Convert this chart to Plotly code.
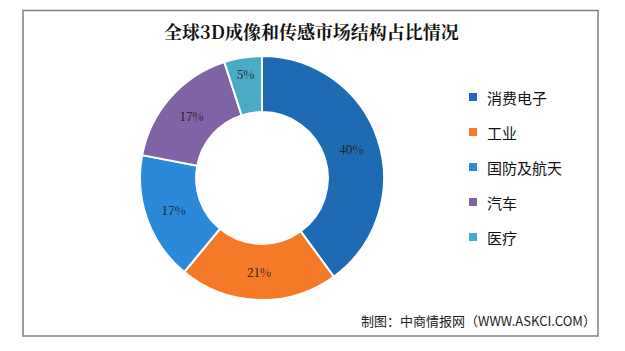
import plotly.graph_objects as go

categories = ["消费电子", "工业", "国防及航天", "汽车", "医疗"]
values = [40, 21, 17, 17, 5]
colors = ["#1f6bb3", "#f47a28", "#2a89d8", "#7f63a5", "#4babc7"]

title_text = "全球3D成像和传感市场结构占比情况"
source_text = "制图：中商情报网（WWW.ASKCI.COM）"

W, H = 625, 351
cx, cy, r = 262, 178, 122

fig = go.Figure()
fig.add_trace(go.Pie(
    labels=categories,
    values=values,
    sort=False,
    direction="clockwise",
    rotation=0,
    hole=0.54,
    marker=dict(colors=colors, line=dict(color="white", width=2)),
    texttemplate="%{percent:.0%}",
    textposition="inside",
    insidetextorientation="horizontal",
    textfont=dict(family="Noto Serif CJK SC, DejaVu Serif", size=12, color="#1a1a1a"),
    domain=dict(x=[(cx - r) / W, (cx + r) / W],
                y=[(H - cy - r) / H, (H - cy + r) / H]),
    showlegend=False,
    hoverinfo="label+percent",
))

shapes = [dict(type="rect", xref="paper", yref="paper",
               x0=23 / W, x1=598 / W, y0=1 - 336 / H, y1=1 - 10.5 / H,
               line=dict(color="#7f7f7f", width=1.5), fillcolor="rgba(0,0,0,0)")]
annotations = [
    dict(text="<b>" + title_text + "</b>", x=311 / W, y=1 - 31 / H, xref="paper", yref="paper",
         showarrow=False, xanchor="center", yanchor="middle",
         font=dict(family="Noto Serif CJK SC, Noto Sans CJK SC", size=18, color="#111111")),
    dict(text=source_text, x=598 / W, y=1 - 320 / H, xref="paper", yref="paper",
         showarrow=False, xanchor="right", yanchor="middle",
         font=dict(family="Noto Sans CJK SC", size=13, color="#222222")),
]

leg_y0, leg_dy = 97, 35
for i, (cat, col) in enumerate(zip(categories, colors)):
    yc = leg_y0 + i * leg_dy
    shapes.append(dict(type="rect", xref="paper", yref="paper",
                       x0=469 / W, x1=477 / W, y0=1 - (yc + 4) / H, y1=1 - (yc - 4) / H,
                       line=dict(width=0), fillcolor=col))
    annotations.append(dict(text=cat, x=485 / W, y=1 - yc / H, xref="paper", yref="paper",
                            showarrow=False, xanchor="left", yanchor="middle",
                            font=dict(family="Noto Sans CJK SC", size=15, color="#111111")))

fig.update_layout(
    width=W, height=H,
    margin=dict(l=0, r=0, t=0, b=0),
    paper_bgcolor="white", plot_bgcolor="white",
    shapes=shapes, annotations=annotations,
)

fig.write_html("out.html")
